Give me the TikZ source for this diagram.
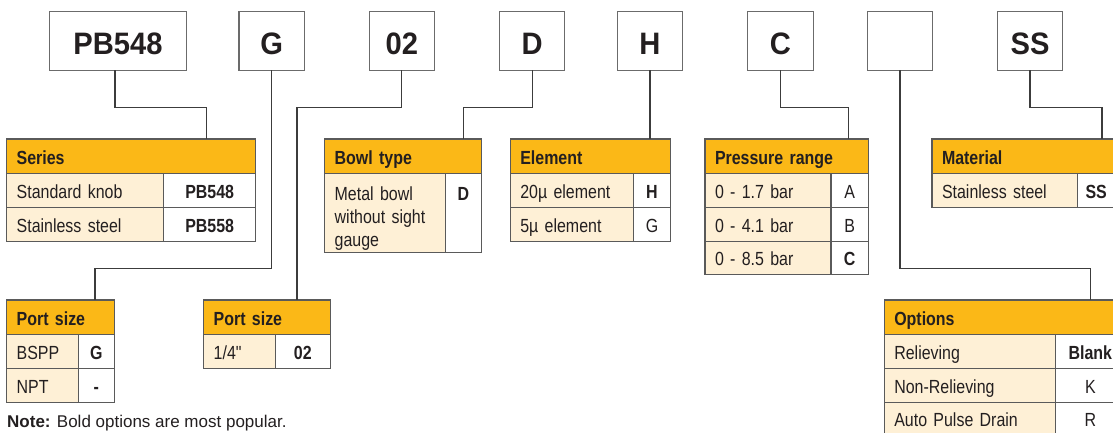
\documentclass[tikz,border=0pt]{standalone}
\usepackage{fontspec}
\setmainfont{Liberation Sans}
\newfontfamily\condfont[FakeStretch=0.84]{Liberation Sans}
\newfontfamily\codefont[FakeStretch=0.94]{Liberation Sans}
\usetikzlibrary{
	positioning       %定位
}
\definecolor{hdrorange}{HTML}{FBB817}
\definecolor{cream}{HTML}{FEF0D6}
\definecolor{cellgray}{HTML}{5A5A5A}
\definecolor{boxgray}{HTML}{6B6B6B}
\definecolor{linegray}{HTML}{3C3C3C}
\definecolor{txt}{HTML}{231F20}
\tikzset{
	codebox/.style={rectangle, draw=boxgray, line width=1.2pt, fill=white,
		inner sep=0pt, outer sep=0pt, minimum width=65.3pt,
		text height=43pt, text depth=16pt, text=txt,
		font=\codefont\bfseries\fontsize{31}{31}\selectfont},
	hdr/.style={rectangle, anchor=north west, draw=cellgray, line width=1.2pt,
		fill=hdrorange, inner xsep=10pt, inner ysep=0pt, outer sep=0pt,
		text width=#1, align=left, text height=25.3pt, text depth=9.4pt,
		text=txt, font=\condfont\bfseries\fontsize{19}{23.3}\selectfont},
	lcell/.style={rectangle, anchor=north west, draw=cellgray, line width=1.2pt,
		fill=cream, inner xsep=10pt, inner ysep=0pt, outer sep=0pt,
		text width=#1, align=left, text height=24.6pt, text depth=9.1pt,
		text=txt, font=\condfont\fontsize{19}{23.3}\selectfont},
	rcell/.style={rectangle, anchor=north west, draw=cellgray, line width=1.2pt,
		fill=white, inner sep=0pt, outer sep=0pt, minimum width=#1,
		text height=24.6pt, text depth=9.1pt,
		text=txt, font=\condfont\fontsize{19}{23.3}\selectfont},
	conn/.style={draw=linegray, line width=1.2pt}
}

\begin{document}
\begin{tikzpicture}[x=1pt,y=-1pt]
\useasboundingbox (0,0) rectangle (1113,432);
%上面一排代码框
\node[codebox, minimum width=137.4pt] (pb) at (118,40.8) {PB548};
\node[codebox] (g) at (271.7,40.8) {G};
\node[codebox] (n02) at (401.8,40.8) {02};
\node[codebox] (d) at (532.2,40.8) {D};
\node[codebox] (h) at (650,40.8) {H};
\node[codebox] (c) at (780.5,40.8) {C};
\node[codebox] (opt) at (900,40.8) {};
\node[codebox] (ss) at (1030,40.8) {SS};
%Series表
\node[hdr=229pt] (series) at (6.7,139) {Series};
\node[lcell=137pt] (series1) at (series.south west) {Standard knob};
\node[rcell=92pt] (series1v) at (series1.north east) {\textbf{PB548}};
\node[lcell=137pt] (series2) at (series1.south west) {Stainless steel};
\node[rcell=92pt] (series2v) at (series2.north east) {\textbf{PB558}};
%Port size表(左)
\node[hdr=87.6pt] (port) at (6.7,300) {Port size};
\node[lcell=51.6pt] (port1) at (port.south west) {BSPP};
\node[rcell=36pt] (port1v) at (port1.north east) {\textbf{G}};
\node[lcell=51.6pt] (port2) at (port1.south west) {NPT};
\node[rcell=36pt] (port2v) at (port2.north east) {\textbf{-}};
%Port size表(右)
\node[hdr=106.6pt] (thread) at (203.7,300) {Port size};
\node[lcell=51.6pt] (thread1) at (thread.south west) {1/4"};
\node[rcell=55pt] (thread1v) at (thread1.north east) {\textbf{02}};
%Bowl type表
\node[hdr=136.6pt] (bowl) at (324.7,139) {Bowl type};
\node[lcell=100.6pt, text height=26.3pt, text depth=52.7pt] (bowl1) at (bowl.south west) {Metal bowl\\without sight\\gauge};
\node[rcell=36pt, text height=26.3pt, text depth=52.7pt] (bowl1v) at (bowl1.north east) {\textbf{D}};
%Element表
\node[hdr=140pt] (element) at (510.3,139) {Element};
\node[lcell=103.4pt] (element1) at (element.south west) {20µ element};
\node[rcell=36.6pt] (element1v) at (element1.north east) {\textbf{H}};
\node[lcell=103.4pt] (element2) at (element1.south west) {5µ element};
\node[rcell=36.6pt] (element2v) at (element2.north east) {G};
%Pressure range表
\node[hdr=143.3pt] (pressure) at (705,139) {Pressure range};
\node[lcell=106pt] (pressure1) at (pressure.south west) {0 - 1.7 bar};
\node[rcell=37.3pt] (pressure1v) at (pressure1.north east) {A};
\node[lcell=106pt] (pressure2) at (pressure1.south west) {0 - 4.1 bar};
\node[rcell=37.3pt] (pressure2v) at (pressure2.north east) {B};
\node[lcell=106pt] (pressure3) at (pressure2.south west) {0 - 8.5 bar};
\node[rcell=37.3pt] (pressure3v) at (pressure3.north east) {\textbf{C}};
%Material表
\node[hdr=163pt] (material) at (932,139) {Material};
\node[lcell=125.3pt] (material1) at (material.south west) {Stainless steel};
\node[rcell=37.7pt] (material1v) at (material1.north east) {\textbf{SS}};
%Options表
\node[hdr=220.7pt] (options) at (884.3,300) {Options};
\node[lcell=151.4pt] (options1) at (options.south west) {Relieving};
\node[rcell=69.3pt] (options1v) at (options1.north east) {\textbf{Blank}};
\node[lcell=151.4pt] (options2) at (options1.south west) {Non-Relieving};
\node[rcell=69.3pt] (options2v) at (options2.north east) {K};
\node[lcell=151.4pt] (options3) at (options2.south west) {Auto Pulse Drain};
\node[rcell=69.3pt] (options3v) at (options3.north east) {R};
%连线
\draw[conn] ([xshift=-3pt]pb.south) -- ++(0,37.4) -| ([xshift=200pt]series.north west);
\draw[conn] (g.south) -- ++(0,198) -| ([xshift=88.3pt]port.north west);
\draw[conn] (n02.south) -- ++(0,37.4) -| ([xshift=93.3pt]thread.north west);
\draw[conn] (d.south) -- ++(0,37.4) -| ([xshift=138.6pt]bowl.north west);
\draw[conn] (h.south) -- (h.south |- element.north);
\draw[conn] (c.south) -- ++(0,37.4) -| ([xshift=143.7pt]pressure.north west);
\draw[conn] (opt.south) -- ++(0,198) -| ([xshift=206.4pt]options.north west);
\draw[conn] (ss.south) -- ++(0,37.4) -| ([xshift=170pt]material.north west);
%说明
\node[anchor=base west, inner sep=0pt, text=txt, font=\fontsize{17}{20}\selectfont] (note) at (7,427.5) {\textbf{Note:} Bold options are most popular.};
\end{tikzpicture}
\end{document}
